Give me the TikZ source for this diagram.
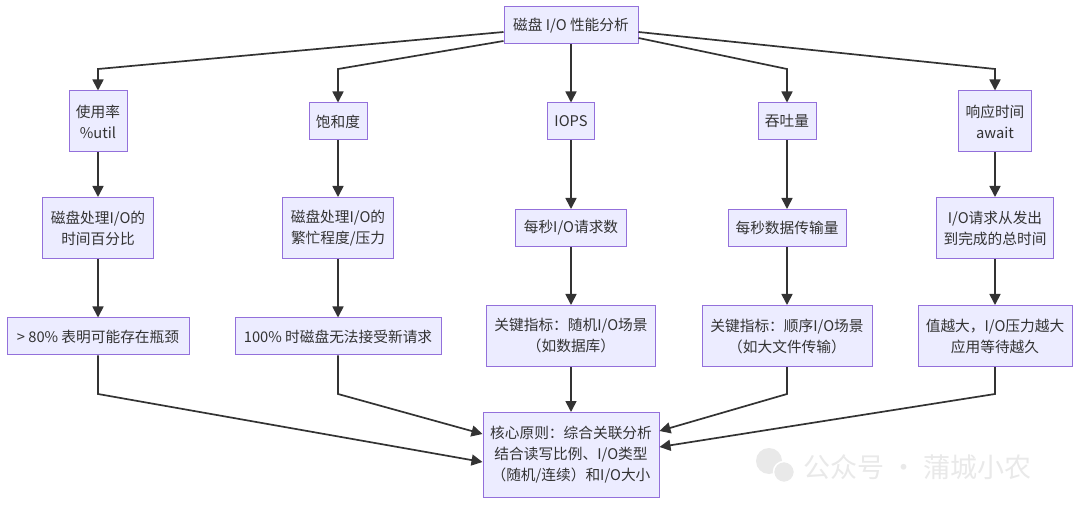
\documentclass[tikz,border=0pt]{standalone}
\usepackage{fontspec}
\setmainfont{Noto Sans CJK SC}
\usetikzlibrary{arrows.meta,calc}
\definecolor{boxfill}{HTML}{ECECFF}
\definecolor{boxline}{HTML}{9370DB}
\definecolor{edge}{HTML}{333333}
\definecolor{wm}{HTML}{E9E9E9}
\begin{document}
\begin{tikzpicture}[x=1pt,y=-1pt,
  box/.style={draw=boxline, fill=boxfill, line width=1pt, text=edge,
    font=\fontsize{14.7}{21}\selectfont, align=center,
    inner xsep=3pt, inner ysep=0pt, minimum height=37pt},
  two/.style={minimum height=61pt},
  three/.style={minimum height=85pt},
  arr/.style={draw=edge, line width=1.7pt, -{Triangle[length=11pt,width=11pt]}},
  wmark/.style={text=wm, font=\fontsize{27}{27}\selectfont}]
\fill[white] (0,0) rectangle (1080,505);
\useasboundingbox (0,0) rectangle (1080,505);

% elbow levels
\coordinate (e1) at (0,69);
\coordinate (e2) at (0,394);

% top
\node[box, minimum width=134pt] (top) at (571,25.5) {磁盘 I/O 性能分析};

% row 1
\node[box, two, minimum width=58pt] (u1) at (98,121.5) {使用率\\\%util};
\node[box, minimum width=58pt] (s1) at (338,121.5) {饱和度};
\node[box, minimum width=47pt] (i1) at (571,121.5) {IOPS};
\node[box, minimum width=58pt] (t1) at (787,121.5) {吞吐量};
\node[box, two, minimum width=73pt] (r1) at (995,121.5) {响应时间\\await};

% row 2
\node[box, two, minimum width=111pt] (u2) at (98,228) {磁盘处理I/O的\\时间百分比};
\node[box, two, minimum width=111pt] (s2) at (338,228) {磁盘处理I/O的\\繁忙程度/压力};
\node[box, minimum width=111pt] (i2) at (571,228) {每秒I/O请求数};
\node[box, minimum width=118pt] (t2) at (787,228) {每秒数据传输量};
\node[box, two, minimum width=117pt] (r2) at (995,228) {I/O请求从发出\\到完成的总时间};

% row 3
\node[box, minimum width=182pt] (u3) at (98,336.5) {> 80\% 表明可能存在瓶颈};
\node[box, minimum width=206pt] (s3) at (338,336.5) {100\% 时磁盘无法接受新请求};
\node[box, two, minimum width=169pt] (i3) at (571,336) {关键指标：随机I/O场景\\（如数据库）};
\node[box, two, minimum width=170pt] (t3) at (787,336) {关键指标：顺序I/O场景\\（如大文件传输）};
\node[box, two, minimum width=154pt] (r3) at (995,336) {值越大，I/O压力越大\\应用等待越久};

% bottom
\node[box, three, minimum width=176pt] (core) at (571,455) {核心原则：综合关联分析\\结合读写比例、I/O类型\\（随机/连续）和I/O大小};

% top fan-out
\draw[arr] ([yshift=-6.5pt]top.west) -- (u1.north |- e1) -- (u1.north);
\draw[arr] ([yshift=-15.5pt]top.west) -- (s1.north |- e1) -- (s1.north);
\draw[arr] (top.south) -- (i1.north);
\draw[arr] ([yshift=-12.5pt]top.east) -- (t1.north |- e1) -- (t1.north);
\draw[arr] ([yshift=-6.5pt]top.east) -- (r1.north |- e1) -- (r1.north);

% columns
\draw[arr] (u1.south) -- (u2.north);
\draw[arr] (s1.south) -- (s2.north);
\draw[arr] (i1.south) -- (i2.north);
\draw[arr] (t1.south) -- (t2.north);
\draw[arr] (r1.south) -- (r2.north);
\draw[arr] (u2.south) -- (u3.north);
\draw[arr] (s2.south) -- (s3.north);
\draw[arr] (i2.south) -- (i3.north);
\draw[arr] (t2.south) -- (t3.north);
\draw[arr] (r2.south) -- (r3.north);

% fan-in
\draw[arr] (u3.south) -- (u3.south |- e2) -- ([yshift=-7pt]core.west);
\draw[arr] (s3.south) -- (s3.south |- e2) -- ([yshift=21pt]core.west);
\draw[arr] (i3.south) -- (core.north);
\draw[arr] (t3.south) -- (t3.south |- e2) -- ([yshift=24pt]core.east);
\draw[arr] (r3.south) -- (r3.south |- e2) -- ([yshift=8pt]core.east);

% watermark
\fill[wm] (769,461) circle (13pt);
\fill[wm, draw=white, line width=1.5pt] (784,472) circle (10.5pt);
\node[wmark, anchor=west] (wmtext) at (800,467) {公众号 · 蒲城小农};
\end{tikzpicture}
\end{document}
